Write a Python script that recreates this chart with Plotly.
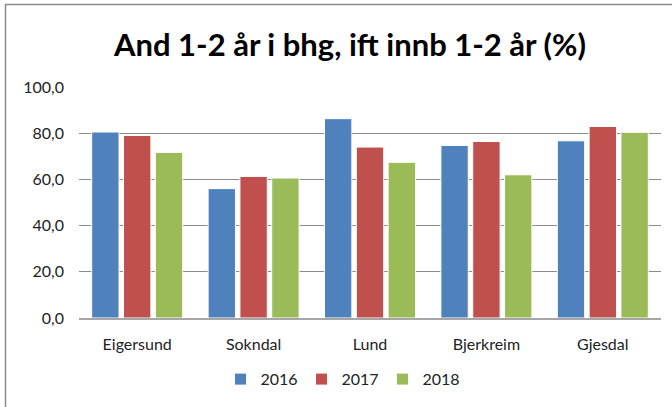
import plotly.graph_objects as go

categories = ["Eigersund", "Sokndal", "Lund", "Bjerkreim", "Gjesdal"]
years = ["2016", "2017", "2018"]
values_2016 = [80.5, 56.0, 86.3, 74.7, 76.7]
values_2017 = [79.0, 61.3, 74.0, 76.4, 82.9]
values_2018 = [71.7, 60.6, 67.4, 62.0, 80.4]
colors = ["#4F81BD", "#C0504D", "#9BBB59"]
tick_vals = [0, 20, 40, 60, 80, 100]
tick_text = ["0,0", "20,0", "40,0", "60,0", "80,0", "100,0"]
title_text = "And 1-2 år i bhg, ift innb 1-2 år (%)"

FONT = "Lato"

fig = go.Figure()
for name, vals, col in zip(years, [values_2016, values_2017, values_2018], colors):
    fig.add_trace(go.Bar(
        x=categories, y=vals, name=name,
        marker=dict(color=col, line=dict(color="white", width=1)),
    ))

W, H = 672, 407
ml, mr, mt, mb = 79, 11, 87, 86
pw = W - ml - mr
ph = H - mt - mb

def px_x(p):
    return (p - ml) / pw

def px_y(p):
    return (H - mb - p) / ph

fig.update_layout(
    width=W, height=H,
    margin=dict(l=ml, r=mr, t=mt, b=mb, pad=0),
    paper_bgcolor="white", plot_bgcolor="white",
    barmode="group", bargap=0.18, bargroupgap=0.14,
    font=dict(family=FONT, size=16, color="#222222"),
    title=dict(text=title_text, x=350 / W, xanchor="center", xref="container",
               y=1 - 45 / H, yanchor="middle", yref="container",
               font=dict(family=FONT, size=31, color="black", weight="bold")),
    legend=dict(orientation="h", x=px_x(342), xanchor="center",
                y=px_y(383), yanchor="middle", font=dict(size=16),
                itemwidth=30, entrywidth=36, tracegroupgap=0),
    showlegend=True,
    shapes=[
        dict(type="line", xref="paper", yref="paper",
             x0=px_x(5), x1=px_x(700), y0=px_y(3.5), y1=px_y(3.5),
             line=dict(color="#8a8a8a", width=1.5)),
        dict(type="line", xref="paper", yref="paper",
             x0=px_x(5.5), x1=px_x(5.5), y0=px_y(3), y1=px_y(420),
             line=dict(color="#8a8a8a", width=1.5)),
    ],
)
fig.update_xaxes(showgrid=False, showline=True, linecolor="#a6a6a6", linewidth=1.5,
                 ticks="", tickfont=dict(size=16, color="#222222"), ticklabelstandoff=11)
fig.update_yaxes(range=[0, 100], tickvals=tick_vals, ticktext=tick_text,
                 showgrid=True, gridcolor="#8c8c8c", gridwidth=1,
                 zeroline=False, showline=False, ticks="",
                 tickfont=dict(size=16, color="#222222"), ticklabelstandoff=14)

fig.write_html("out.html", config={"displayModeBar": False},
               post_script="document.body.style.margin='0';")
